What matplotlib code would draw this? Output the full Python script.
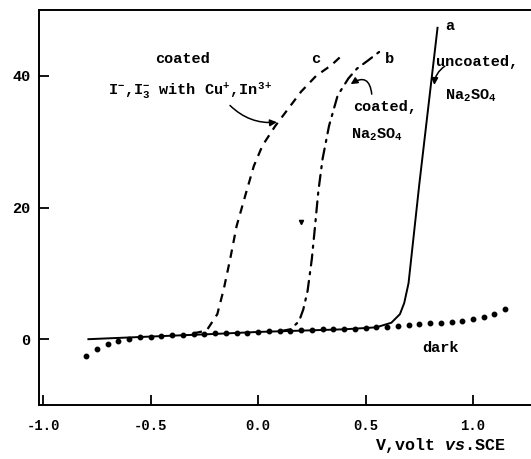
import numpy as np
import matplotlib
matplotlib.use('Agg')
import matplotlib.pyplot as plt

plt.rcParams['font.family'] = ['Liberation Mono', 'DejaVu Sans']
plt.rcParams['font.weight'] = 'bold'
plt.rcParams['mathtext.fontset'] = 'custom'
plt.rcParams['mathtext.rm'] = 'Liberation Mono:bold'
plt.rcParams['mathtext.it'] = 'Liberation Mono:italic:bold'
plt.rcParams['mathtext.bf'] = 'Liberation Mono:bold'

# curve a: uncoated, Na2SO4 (solid)
a_v = [-0.79, -0.5, -0.2, 0.0, 0.2, 0.4, 0.55, 0.62, 0.66, 0.68, 0.70, 0.75, 0.80, 0.835]
a_i = [0.0, 0.4, 0.8, 1.1, 1.3, 1.5, 1.8, 2.5, 3.8, 5.5, 8.5, 23.5, 37.5, 47.3]

# curve b: coated, Na2SO4 (dash-dot)
b_v = [0.10, 0.15, 0.19, 0.21, 0.23, 0.25, 0.265, 0.28, 0.30, 0.33, 0.37, 0.42, 0.46, 0.51, 0.57]
b_i = [1.2, 1.5, 2.7, 4.5, 7.3, 12.2, 17.2, 22.4, 27.4, 32.4, 37.0, 39.6, 41.1, 42.3, 43.8]

# curve c: coated, I-/I3- with Cu+, In3+ (dashed)
c_v = [-0.30, -0.24, -0.19, -0.16, -0.13, -0.10, -0.06, -0.02, 0.02, 0.08, 0.14, 0.20, 0.27, 0.34, 0.40]
c_i = [0.9, 1.3, 3.8, 7.6, 12.2, 17.2, 21.8, 26.3, 29.4, 32.4, 35.0, 37.6, 40.0, 41.6, 43.4]

# dark current (dots)
dark_v = [-0.80, -0.75, -0.70, -0.65, -0.60, -0.55, -0.50, -0.45, -0.40, -0.35,
          -0.30, -0.25, -0.20, -0.15, -0.10, -0.05, 0.00, 0.05, 0.10, 0.15,
          0.20, 0.25, 0.30, 0.35, 0.40, 0.45, 0.50, 0.55, 0.60, 0.65,
          0.70, 0.75, 0.80, 0.85, 0.90, 0.95, 1.00, 1.05, 1.10, 1.15]
dark_i = [-2.6, -1.5, -0.8, -0.3, 0.1, 0.3, 0.4, 0.5, 0.6, 0.7,
          0.8, 0.8, 0.9, 0.9, 1.0, 1.0, 1.1, 1.2, 1.2, 1.3,
          1.4, 1.4, 1.5, 1.5, 1.6, 1.6, 1.7, 1.8, 1.9, 2.0,
          2.2, 2.3, 2.4, 2.5, 2.6, 2.8, 3.0, 3.4, 3.9, 4.6]

stray_v = [0.20]
stray_i = [17.8]

fig = plt.figure(figsize=(5.31, 4.59), dpi=100)
ax = fig.add_axes([0.0734, 0.1176, 0.9266, 0.8606])

ax.plot(a_v, a_i, color='black', lw=1.4)
ax.plot(c_v, c_i, color='black', lw=1.6, linestyle=(0, (3.8, 3)))
ax.plot(b_v, b_i, color='black', lw=1.6, linestyle=(0, (5, 3, 1, 3)),
        dash_capstyle='round')
ax.plot(dark_v, dark_i, 'o', color='black', ms=3.2)
ax.plot(stray_v, stray_i, 'v', color='black', ms=3)

ax.set_xlim(-1.02, 1.27)
ax.set_ylim(-10, 50)
ax.set_xticks([-1.0, -0.5, 0.0, 0.5, 1.0])
ax.set_xticklabels(['-1.0', '-0.5', '0.0', '0.5', '1.0'])
ax.set_yticks([0, 20, 40])
ax.tick_params(direction='in', length=7, width=1.3, labelsize=10)
ax.tick_params(axis='x', pad=10)
ax.tick_params(axis='y', pad=6, labelsize=11)
ax.spines['right'].set_visible(False)
for s in ['left', 'bottom', 'top']:
    ax.spines[s].set_linewidth(1.4)

tk = dict(fontsize=11, color='black')
ax.text(-0.35, 42.5, 'coated', ha='center', va='center', **tk)
ax.text(-0.70, 37.7, r'I$^{-}$,I$_{3}^{-}$ with Cu$^{+}$,In$^{3+}$', ha='left', va='center', **tk)
ax.text(0.27, 42.5, 'c', ha='center', va='center', **tk)
ax.text(0.61, 42.5, 'b', ha='center', va='center', **tk)
ax.text(0.89, 47.5, 'a', ha='center', va='center', **tk)
ax.text(0.83, 42.1, 'uncoated,', ha='left', va='center', **tk)
ax.text(0.87, 37.0, r'Na$_{2}$SO$_{4}$', ha='left', va='center', **tk)
ax.text(0.44, 35.3, 'coated,', ha='left', va='center', **tk)
ax.text(0.43, 31.0, r'Na$_{2}$SO$_{4}$', ha='left', va='center', **tk)
ax.text(0.85, -1.4, 'dark', ha='center', va='center', **tk)

arw = dict(arrowstyle='-|>', color='black', lw=1.1, mutation_scale=10)
ax.annotate('', xy=(0.10, 33.0), xytext=(-0.14, 35.8),
            arrowprops=dict(connectionstyle='arc3,rad=0.25', **arw))
ax.annotate('', xy=(0.42, 38.5), xytext=(0.53, 36.8),
            arrowprops=dict(connectionstyle='arc3,rad=0.9', **arw))
ax.annotate('', xy=(0.82, 38.2), xytext=(0.88, 41.7),
            arrowprops=dict(connectionstyle='arc3,rad=0.3', **arw))

fig.text(0.83, 0.03, r'V,volt $vs$.SCE', ha='center', va='center', fontsize=12)

fig.savefig('out.png', dpi=100)
